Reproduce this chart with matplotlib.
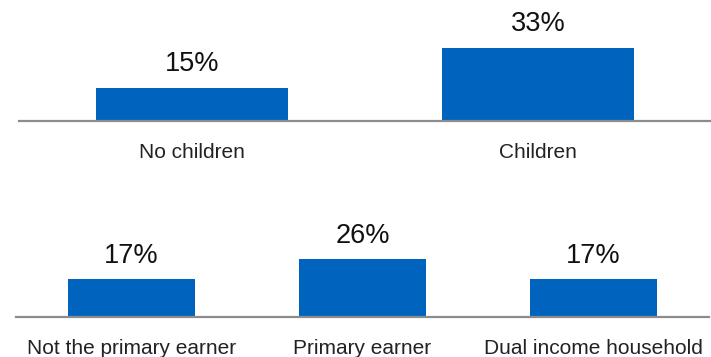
import matplotlib
matplotlib.use("Agg")
import matplotlib.pyplot as plt

# Share of respondents, by household status
children_cats = ["No children", "Children"]
children_vals = [15, 33]

earner_cats = ["Not the primary earner", "Primary earner", "Dual income household"]
earner_vals = [17, 26, 17]

BAR_COLOR = "#0064BE"
AXIS_COLOR = "#8C8C8C"
plt.rcParams["font.family"] = ["Liberation Sans", "DejaVu Sans"]

W, H = 711, 357
fig = plt.figure(figsize=(W / 100, H / 100), dpi=100)

YMAX = 45  # shared value scale for both panels


def panel(rect_px, cats, vals, width):
    l, b, w, h = rect_px
    ax = fig.add_axes([l / W, b / H, w / W, h / H])
    x = range(len(cats))
    ax.bar(x, vals, width=width, color=BAR_COLOR, zorder=2)
    for xi, v in zip(x, vals):
        ax.annotate(f"{v}%", (xi, v), xytext=(0, 12), textcoords="offset points",
                    ha="center", va="baseline", fontsize=19.5, color="#111111")
    ax.set_xlim(-0.5, len(cats) - 0.5)
    ax.set_ylim(0, YMAX)
    ax.set_xticks(list(x))
    ax.set_xticklabels(cats, fontsize=15, color="#222222")
    ax.tick_params(axis="x", length=0, pad=16)
    ax.set_yticks([])
    for s in ("top", "right", "left"):
        ax.spines[s].set_visible(False)
    ax.spines["bottom"].set_color(AXIS_COLOR)
    ax.spines["bottom"].set_linewidth(1.6)
    ax.spines["bottom"].set_zorder(3)
    return ax


# top panel: baseline at y=121 px from the top
panel((19, H - 121, 692, 100), children_cats, children_vals, 0.555)
# bottom panel: baseline at y=317 px from the top
panel((16, H - 317, 693, 100), earner_cats, earner_vals, 0.55)

fig.savefig("out.png", dpi=100, facecolor="white")
